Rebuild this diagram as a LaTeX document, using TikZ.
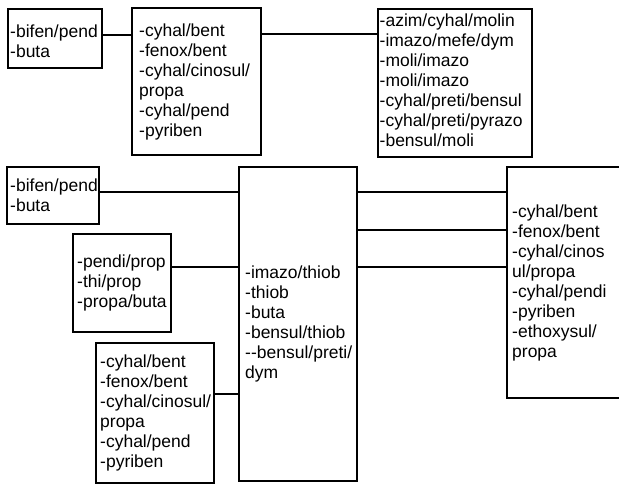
\documentclass[tikz,border=0pt]{standalone}
\usepackage{fontspec}
\setmainfont{Liberation Sans}
\begin{document}
\begin{tikzpicture}[x=1pt,y=-1pt,
  box/.style={draw=black,line width=2pt,fill=white,inner sep=0pt,outer sep=0pt},
  txt/.style={align=left,inner sep=0pt,anchor=west,font=\fontsize{17.5}{20}\selectfont},
  link/.style={draw=black,line width=2pt}]
\clip (0,0) rectangle (619,484);
\useasboundingbox (0,0) rectangle (619,484);
% boxes
\node[box,minimum width=94pt,minimum height=59pt,anchor=north west] (A) at (8,9) {};
\node[box,minimum width=129pt,minimum height=147pt,anchor=north west] (B) at (132,8) {};
\node[box,minimum width=154pt,minimum height=148pt,anchor=north west] (C) at (378,9) {};
\node[box,minimum width=92pt,minimum height=57pt,anchor=north west] (D) at (7,167) {};
\node[box,minimum width=98pt,minimum height=98pt,anchor=north west] (E) at (73,234) {};
\node[box,minimum width=118pt,minimum height=314pt,anchor=north west] (F) at (239,167) {};
\node[box,minimum width=118pt,minimum height=140pt,anchor=north west] (G) at (96,343) {};
\node[box,minimum width=118pt,minimum height=231pt,anchor=north west] (H) at (507,167) {};
% texts
\node[txt] (At) at ([xshift=2pt,yshift=-3pt]A.west) {-bifen/pend\\-buta};
\node[txt] (Bt) at ([xshift=7pt]B.west) {-cyhal/bent\\-fenox/bent\\-cyhal/cinosul/\\propa\\-cyhal/pend\\-pyriben};
\node[txt] (Ct) at ([xshift=1.5pt,yshift=3pt]C.west) {-azim/cyhal/molin\\-imazo/mefe/dym\\-moli/imazo\\-moli/imazo\\-cyhal/preti/bensul\\-cyhal/preti/pyrazo\\-bensul/moli};
\node[txt] (Dt) at ([xshift=3pt]D.west) {-bifen/pend\\-buta};
\node[txt] (Et) at ([xshift=4pt]E.west) {-pendi/prop\\-thi/prop\\-propa/buta};
\node[txt] (Ft) at ([xshift=6pt]F.west) {-imazo/thiob\\-thiob\\-buta\\-bensul/thiob\\-{}-bensul/preti/\\dym};
\node[txt] (Gt) at ([xshift=4pt]G.west) {-cyhal/bent\\-fenox/bent\\-cyhal/cinosul/\\propa\\-cyhal/pend\\-pyriben};
\node[txt] (Ht) at ([xshift=5pt]H.west) {-cyhal/bent\\-fenox/bent\\-cyhal/cinos\\ul/propa\\-cyhal/pendi\\-pyriben\\-ethoxysul/\\propa};
% connector levels
\coordinate (r1) at (0,35);
\coordinate (r2) at (0,34);
\coordinate (r3) at (0,192);
\coordinate (r4) at (0,267);
\coordinate (r5) at (0,394);
\coordinate (r6) at (0,230);
% connectors
\draw[link] (A.east |- r1) -- (B.west |- r1);
\draw[link] (B.east |- r2) -- (C.west |- r2);
\draw[link] (D.east |- r3) -- (F.west |- r3);
\draw[link] (E.east |- r4) -- (F.west |- r4);
\draw[link] (G.east |- r5) -- (F.west |- r5);
\draw[link] (F.east |- r3) -- (H.west |- r3);
\draw[link] (F.east |- r6) -- (H.west |- r6);
\draw[link] (F.east |- r4) -- (H.west |- r4);
\end{tikzpicture}
\end{document}
